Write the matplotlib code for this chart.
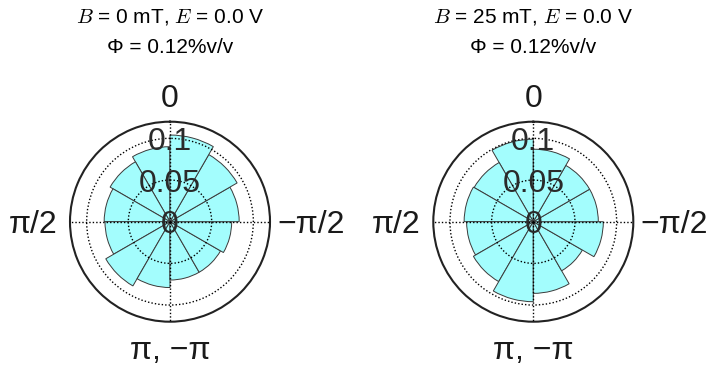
import numpy as np
import matplotlib
matplotlib.use("Agg")
import matplotlib.pyplot as plt

plt.rcParams['font.family'] = ['Liberation Sans', 'DejaVu Sans']
plt.rcParams['mathtext.fontset'] = 'cm'

# angular bins (degrees, counter-clockwise from the top), 30 degrees each
bin_edges_deg = [0, 30, 60, 90, 120, 150, 180, 210, 240, 270, 300, 330, 360]

# probability per bin
prob_b0 = [0.090, 0.083, 0.079, 0.078, 0.089, 0.079,
           0.070, 0.070, 0.074, 0.083, 0.093, 0.104]
prob_b25 = [0.099, 0.082, 0.083, 0.080, 0.083, 0.096,
            0.086, 0.068, 0.084, 0.078, 0.078, 0.087]

title_lines = [("$B$ = 0 mT, $E$ = 0.0 V", "Φ = 0.12%v/v"),
               ("$B$ = 25 mT, $E$ = 0.0 V", "Φ = 0.12%v/v")]

r_ticks = [0, 0.05, 0.1]
r_tick_labels = ["0", "0.05", "0.1"]
r_max = 0.12

theta_labels = ["0", "π/2", "π, −π", "−π/2"]

fig = plt.figure(figsize=(7.09, 3.73), dpi=100)

axes_rects = [[70/709, 51.3/373, 200/709, 200/373],
              [433.3/709, 51.3/373, 200/709, 200/373]]


def rose(ax, probs, lines):
    edges = np.deg2rad(bin_edges_deg)
    centers = (edges[:-1] + edges[1:]) / 2
    widths = np.diff(edges)
    ax.set_theta_zero_location("N")
    ax.set_theta_direction(1)
    ax.bar(centers, probs, width=widths, color="#a3fdfd",
           edgecolor="#3a3a3a", linewidth=0.7, zorder=1)
    ax.set_ylim(0, r_max)
    ax.set_yticks(r_ticks)
    ax.set_yticklabels([])
    ax.set_xticks(np.deg2rad([0, 90, 180, 270]))
    ax.set_xticklabels([])
    ax.tick_params(length=0)
    ax.grid(True, color="black", linestyle=(0, (1, 1.5)), linewidth=1.0)
    ax.set_axisbelow(False)
    ax.spines['polar'].set_color("#222222")
    ax.spines['polar'].set_linewidth(1.5)

    for r, lab in zip(r_ticks, r_tick_labels):
        ax.text(0, r, lab, ha="center", va="center_baseline", fontsize=23,
                color="#2a2a2a", zorder=5)

    # angle labels around the circle
    pos = [(0.5, 1.13), (-0.185, 0.5), (0.5, -0.13), (1.205, 0.5)]
    for (x, y), lab in zip(pos, theta_labels):
        ax.text(x, y, lab, transform=ax.transAxes, ha="center",
                va="center_baseline", fontsize=23, color="#1a1a1a")

    ax.text(0.5, 1.533, lines[0], transform=ax.transAxes, ha="center",
            va="center_baseline", fontsize=15)
    ax.text(0.5, 1.383, lines[1], transform=ax.transAxes, ha="center",
            va="center_baseline", fontsize=15)


for rect, probs, lines in zip(axes_rects, [prob_b0, prob_b25], title_lines):
    ax = fig.add_axes(rect, projection="polar")
    rose(ax, probs, lines)

fig.savefig("out.png", dpi=100)
